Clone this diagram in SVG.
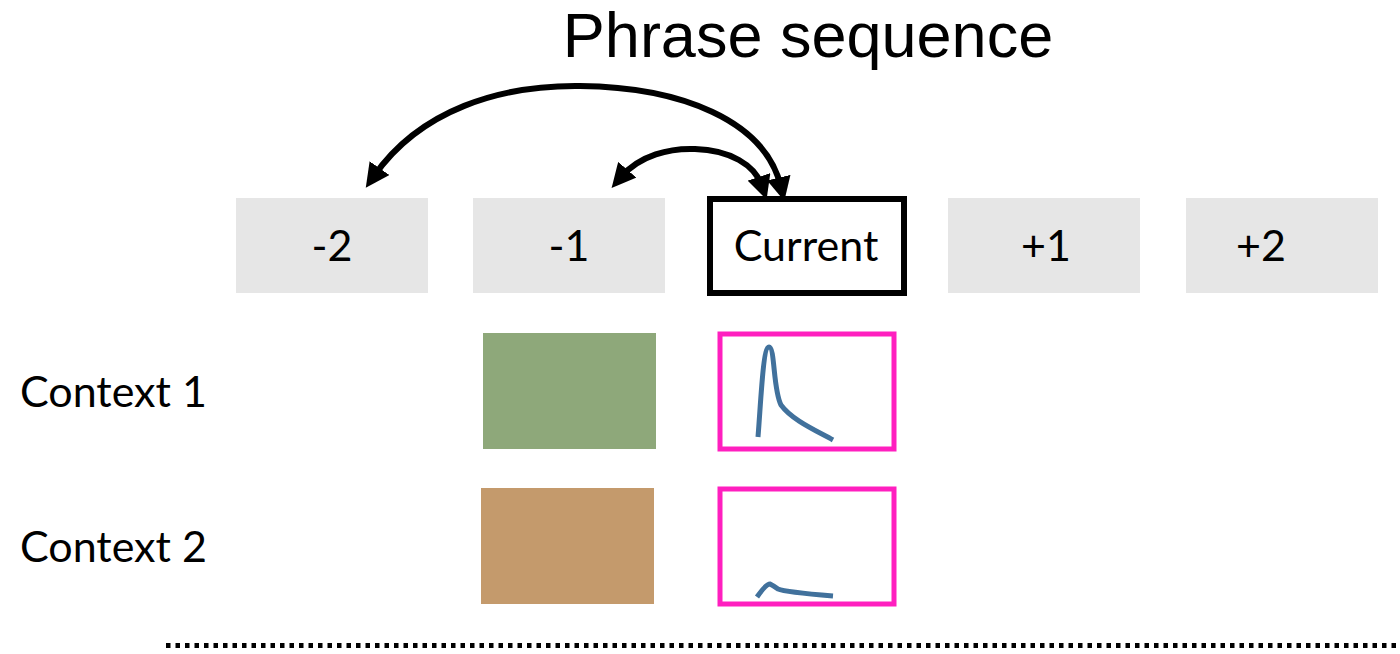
<svg xmlns="http://www.w3.org/2000/svg" width="1400" height="654" viewBox="0 0 1400 654">
<style>
.seq{fill:#e6e6e6}
.lbl{font-family:Lato,"Liberation Sans",sans-serif;font-size:43px;fill:#000}
.pink{fill:#fff;stroke:#ff1fbf;stroke-width:5}
.curve{fill:none;stroke:#41719c;stroke-width:5;stroke-linecap:butt}
.arc{fill:none;stroke:#000;stroke-width:6;marker-start:url(#ah);marker-end:url(#ah)}
</style>
<defs>
<marker id="ah" viewBox="0 0 10 10" refX="4" refY="5" markerWidth="4" markerHeight="4" orient="auto-start-reverse"><path d="M0,0 L10,5 L0,10 z" fill="#000"/></marker>
</defs>
<rect width="1400" height="654" fill="#fff"/>
<text x="808" y="57" text-anchor="middle" font-family="'Liberation Sans',Arial,sans-serif" font-size="63">Phrase sequence</text>
<g id="n-2"><rect class="seq" x="236" y="198" width="192" height="95"/><text class="lbl" x="332" y="261" text-anchor="middle">-2</text></g>
<g id="n-1"><rect class="seq" x="473" y="198" width="192" height="95"/><text class="lbl" x="569" y="261" text-anchor="middle">-1</text></g>
<g id="current"><rect x="710" y="199" width="194" height="94" fill="#fff" stroke="#000" stroke-width="6"/><text class="lbl" x="806" y="261" text-anchor="middle">Current</text></g>
<g id="p1"><rect class="seq" x="948" y="198" width="192" height="95"/><text class="lbl" x="1046" y="261" text-anchor="middle">+1</text></g>
<g id="p2"><rect class="seq" x="1186" y="198" width="192" height="95"/><text class="lbl" x="1261" y="261" text-anchor="middle">+2</text></g>
<g id="ctx1-label"><text class="lbl" x="20" y="407">Context 1</text></g>
<g id="ctx2-label"><text class="lbl" x="20" y="562">Context 2</text></g>
<g id="ctx1-prev"><rect x="483" y="333" width="173" height="116" fill="#8ea87a"/></g>
<g id="ctx2-prev"><rect x="481" y="488" width="173" height="116" fill="#c49a6c"/></g>
<g id="ctx1-cur"><rect class="pink" x="720" y="334" width="174" height="115"/><path class="curve" d="M758,437 C761,400 763,347 769,347 C775,347 773,390 781,405 C792,420 815,430 833,440"/></g>
<g id="ctx2-cur"><rect class="pink" x="720" y="489" width="174" height="115"/><path class="curve" d="M757,597 Q766,584 770,584 Q774,586 778,589 Q785,592 833,596"/></g>
<g id="connectors">
<path class="arc" d="M374,176 C420,110 500,85 580,86 C680,87 765,120 781,187"/>
<path class="arc" d="M621,177 C640,155 670,148 695,149 C730,150 755,165 762,186"/>
<line x1="166" y1="645.5" x2="1400" y2="645.5" stroke="#000" stroke-width="5" stroke-dasharray="4.5 5"/>
</g>
</svg>
